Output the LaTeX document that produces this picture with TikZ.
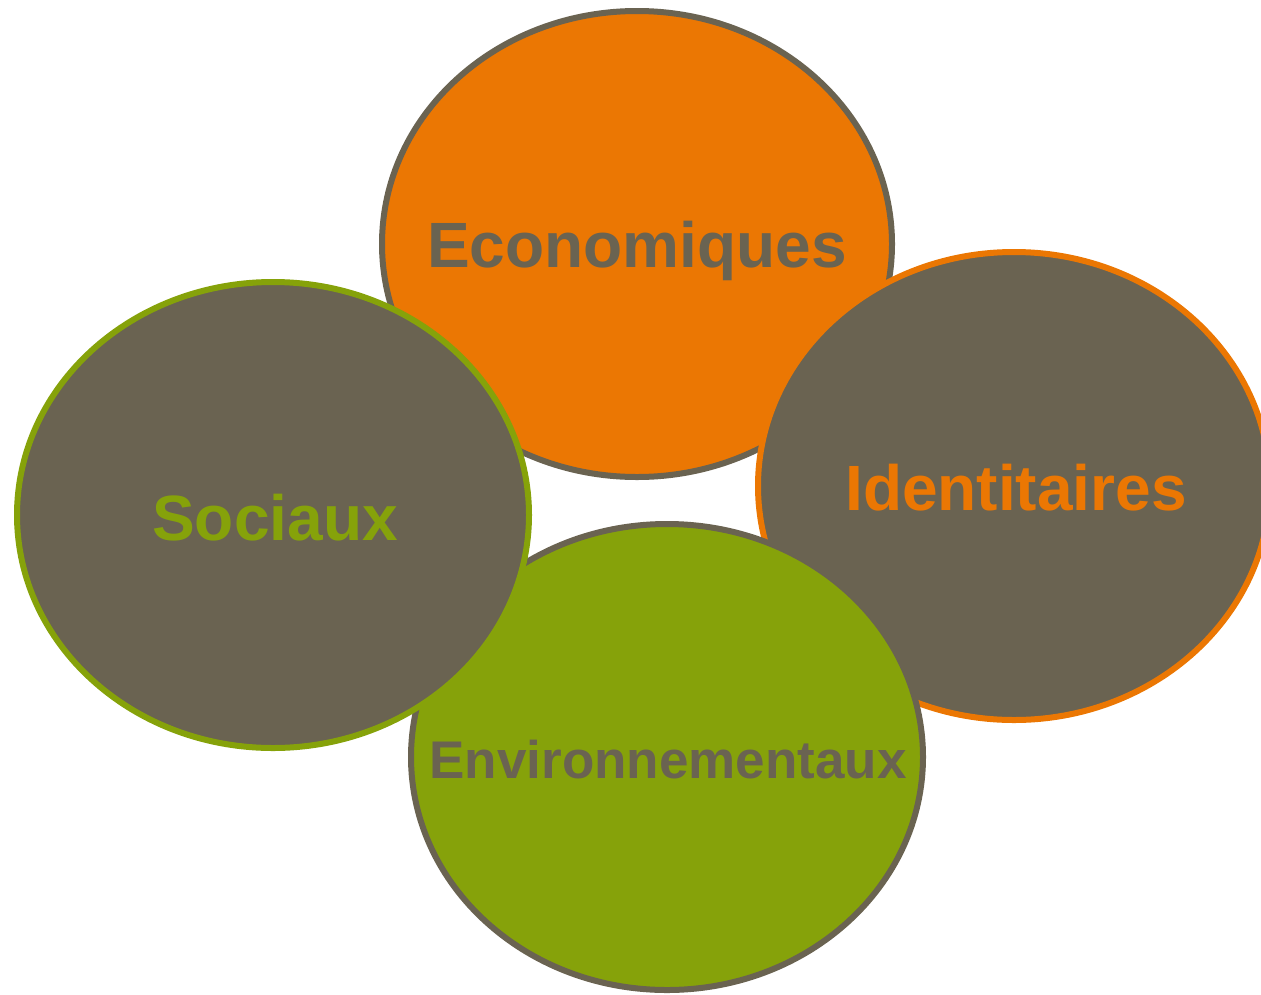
\documentclass[tikz,border=0pt]{standalone}
\usepackage{fontspec}
\setmainfont{Liberation Sans}
\definecolor{orng}{RGB}{235,119,3}
\definecolor{gry}{RGB}{106,99,81}
\definecolor{grn}{RGB}{134,162,10}
\tikzset{
  blob/.style={line width=6pt},
  lbl/.style={anchor=base, inner sep=0pt, font=\bfseries\fontsize{64}{64}\selectfont},
}
\begin{document}
\begin{tikzpicture}[x=1pt,y=-1pt]
\useasboundingbox (0,0) rectangle (1261,994);
% Economiques
\draw[blob, fill=orng, draw=gry] (637,244) ellipse [x radius=255, y radius=233];
\node[lbl, text=gry] (eco) at (637,267) {Economiques};
% Identitaires
\draw[blob, fill=gry, draw=orng] (1014,486) ellipse [x radius=256, y radius=234];
\node[lbl, text=orng] (ide) at (1016,510) {Identitaires};
% Environnementaux
\draw[blob, fill=grn, draw=gry] (667,757) ellipse [x radius=256, y radius=233];
\node[lbl, text=gry, font=\bfseries\fontsize{53}{53}\selectfont] (env) at (668,778) {Environnementaux};
% Sociaux
\draw[blob, fill=gry, draw=grn] (273,515) ellipse [x radius=256, y radius=233];
\node[lbl, text=grn] (soc) at (275,540) {Sociaux};
\end{tikzpicture}
\end{document}
